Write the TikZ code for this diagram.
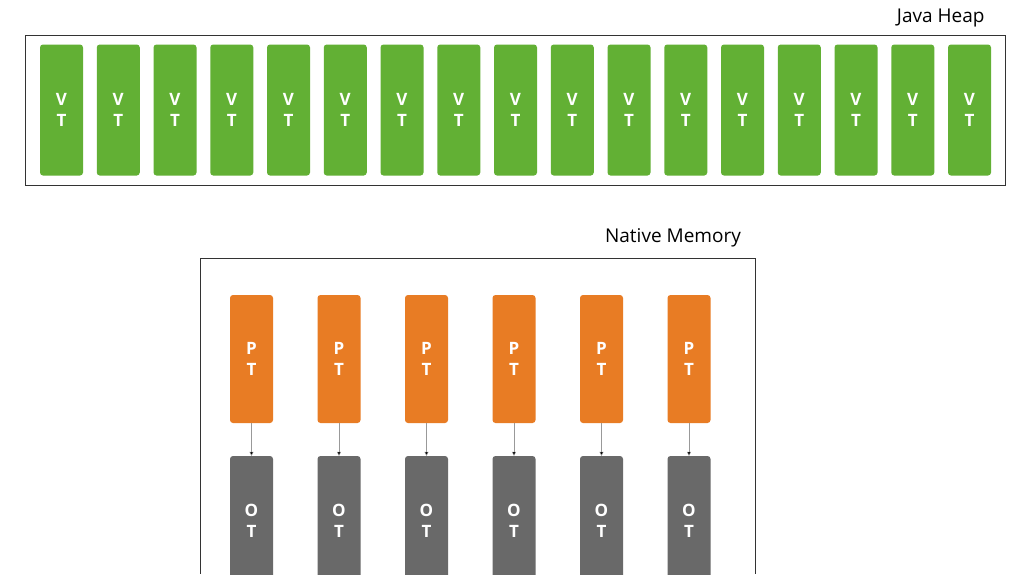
\documentclass[tikz,border=0pt]{standalone}
\usepackage{fontspec}
\setmainfont{Open Sans}
\usetikzlibrary{arrows.meta}
\definecolor{heapgreen}{RGB}{98,176,52}
\definecolor{ptorange}{RGB}{232,124,36}
\definecolor{otgray}{RGB}{105,105,105}
\tikzset{
    bar/.style={draw=none, rounded corners=3pt, minimum width=43pt, align=center,
        text=white, font=\bfseries\fontsize{17}{21}\selectfont},
    area/.style={draw=black!80, line width=0.8pt},
    link/.style={draw=black!40, -{Triangle[length=4pt,width=4pt,fill=black]}}
}
\begin{document}
\begin{tikzpicture}[x=1pt,y=-1pt]
    \useasboundingbox[fill=white] (0,0) rectangle (1024,574);

    % java heap
    \draw[area] (25,35) rectangle (1005,185);
    \node[anchor=east, font=\fontsize{19}{21}\selectfont] (heap) at (988,18) {Java Heap};
    \foreach \i in {0,...,16} {
        \node[bar, fill=heapgreen, minimum height=131pt] (vt\i) at (61.5+56.75*\i,110) {V\\T};
    }

    % native memory
    \draw[area] (200,258) -- (755,258) -- (755,574) (200,258) -- (200,574);
    \node[font=\fontsize{19}{21}\selectfont] (native) at (673,238) {Native Memory};
    \foreach \i in {0,...,5} {
        \node[bar, fill=ptorange, minimum height=128pt] (pt\i) at (251.5+87.5*\i,359) {P\\T};
        \node[bar, fill=otgray, minimum height=160pt] (ot\i) at (251.5+87.5*\i,536) {};
        \node[bar, align=center] at (251.5+87.5*\i,521) {O\\T};
        \draw[link] (pt\i.south) -- (ot\i.north);
    }
\end{tikzpicture}
\end{document}
